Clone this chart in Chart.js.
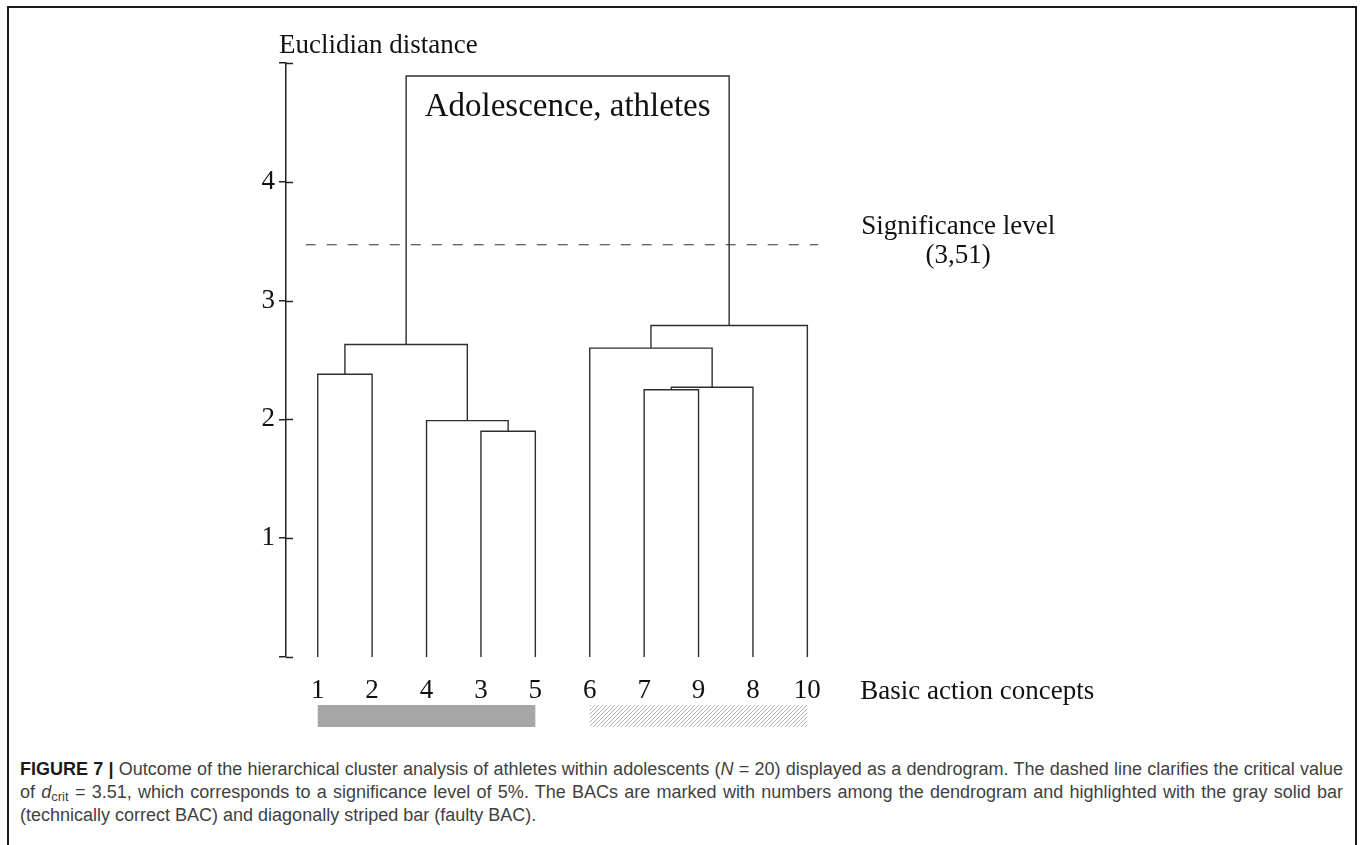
<!DOCTYPE html>
<html><head><meta charset="utf-8">
<script src="https://cdn.jsdelivr.net/npm/chart.js@4.4.0/dist/chart.umd.min.js"></script>
<style>
html,body{margin:0;padding:0;background:#fff;width:1363px;height:845px;overflow:hidden;}
#wrap{position:absolute;left:0;top:0;width:1363px;height:750px;}
#frame{position:absolute;left:7px;top:6px;width:1346px;height:900px;border:2px solid #1a1a1a;border-bottom:none;}
#caption{position:absolute;left:20px;top:758px;width:1323px;font-family:"Liberation Sans",Arial,sans-serif;font-size:18px;line-height:23px;color:#3f3f3f;white-space:nowrap;}
#caption div.j{text-align:justify;text-align-last:justify;}
#caption b{color:#1a1a1a;}
#caption sub{font-size:13px;vertical-align:-3px;line-height:0;}
</style></head>
<body>
<div id="frame"></div>
<div id="wrap"><canvas id="c" width="1363" height="750"></canvas></div>
<div id="caption"><div class="j"><b>FIGURE 7 |</b> Outcome of the hierarchical cluster analysis of athletes within adolescents (<i>N</i> = 20) displayed as a dendrogram. The dashed line clarifies the critical value</div><div class="j">of <i>d</i><sub>crit</sub> = 3.51, which corresponds to a significance level of 5%. The BACs are marked with numbers among the dendrogram and highlighted with the gray solid bar</div><div>(technically correct BAC) and diagonally striped bar (faulty BAC).</div></div>
<script>
// ---- data ----
const leafLabels = ['1','2','4','3','5','6','7','9','8','10'];
// nodes 0-9 = leaves in display order, 10+ = merged clusters
const mergeA = [3, 2, 6, 12, 0, 5, 14, 15, 16];
const mergeB = [4, 10, 7, 8, 1, 13, 11, 9, 17];
const mergeHeight = [1.90, 1.99, 2.25, 2.27, 2.38, 2.60, 2.63, 2.79, 4.89];
const yTicks = [0, 1, 2, 3, 4, 5];
const critValue = 3.47;
const critFrom = -0.22, critTo = 9.2;
const groupFrom = [0, 5];
const groupTo = [4, 9];
const groupStyle = ['solid', 'striped'];

// ---- build dendrogram line datasets ----
const nodeX = leafLabels.map((_, i) => i);
const nodeY = leafLabels.map(() => 0);
const LINE = '#2e2e2e';
const datasets = mergeA.map((a, k) => {
  const b = mergeB[k], h = mergeHeight[k];
  const ds = {
    data: [{x: nodeX[a], y: nodeY[a]}, {x: nodeX[a], y: h}, {x: nodeX[b], y: h}, {x: nodeX[b], y: nodeY[b]}],
    showLine: true, borderColor: LINE, borderWidth: 1.4, pointRadius: 0, tension: 0, fill: false
  };
  nodeX.push((nodeX[a] + nodeX[b]) / 2);
  nodeY.push(h);
  return ds;
});
datasets.push({
  data: [{x: critFrom, y: critValue}, {x: critTo, y: critValue}],
  showLine: true, borderColor: '#333', borderWidth: 1.2, borderDash: [10, 11], pointRadius: 0, fill: false
});

function hatchPattern(ctx) {
  const p = document.createElement('canvas');
  p.width = 4; p.height = 4;
  const g = p.getContext('2d');
  g.fillStyle = '#fff'; g.fillRect(0, 0, 4, 4);
  g.strokeStyle = '#a8a8a8'; g.lineWidth = 0.9;
  g.beginPath();
  g.moveTo(0, 4); g.lineTo(4, 0);
  g.moveTo(-1, 1); g.lineTo(1, -1);
  g.moveTo(3, 5); g.lineTo(5, 3);
  g.stroke();
  return ctx.createPattern(p, 'repeat');
}

const SERIF = '"Liberation Serif","Times New Roman",serif';
const extras = {
  id: 'extras',
  afterDraw(chart) {
    const ctx = chart.ctx, ca = chart.chartArea;
    const xs = chart.scales.x, ys = chart.scales.y;
    ctx.save();
    // right-hand halves of the y tick marks
    ctx.strokeStyle = '#222'; ctx.lineWidth = 1.5;
    yTicks.forEach(v => {
      const y = Math.round(ys.getPixelForValue(v)) + 0.5;
      ctx.beginPath(); ctx.moveTo(ca.left, y); ctx.lineTo(ca.left + 7, y); ctx.stroke();
    });
    // group bars
    groupFrom.forEach((f, g) => {
      const x1 = xs.getPixelForValue(f), x2 = xs.getPixelForValue(groupTo[g]);
      const y1 = ca.bottom + 48;
      ctx.fillStyle = groupStyle[g] === 'solid' ? '#a6a6a6' : hatchPattern(ctx);
      ctx.fillRect(x1, y1, x2 - x1, 22);
    });
    // texts
    ctx.fillStyle = '#111';
    ctx.textBaseline = 'alphabetic';
    ctx.font = '27px ' + SERIF;
    ctx.textAlign = 'left';
    ctx.fillText('Euclidian distance', ca.left - 7, ca.top - 10);
    ctx.fillText('Basic action concepts', xs.getPixelForValue(leafLabels.length - 1) + 53, ca.bottom + 42);
    ctx.textAlign = 'center';
    const sx = xs.getPixelForValue(critTo) + 140, sy = ys.getPixelForValue(critValue);
    ctx.fillText('Significance level', sx, sy - 11);
    ctx.fillText('(3,51)', sx, sy + 18);
    const root = mergeA.length - 1;
    const rx = (xs.getPixelForValue(nodeX[mergeA[root]]) + xs.getPixelForValue(nodeX[mergeB[root]])) / 2;
    ctx.font = '33px ' + SERIF;
    ctx.fillText('Adolescence, athletes', rx, ys.getPixelForValue(mergeHeight[root]) + 40);
    ctx.restore();
  }
};

new Chart(document.getElementById('c'), {
  type: 'scatter',
  data: {datasets},
  options: {
    responsive: false, animation: false, devicePixelRatio: 1,
    layout: {padding: {left: 0, top: 63, right: 523, bottom: 0}},
    plugins: {legend: {display: false}, tooltip: {enabled: false}},
    scales: {
      x: {
        type: 'linear', min: -0.583, max: 9.6,
        afterBuildTicks: ax => { ax.ticks = leafLabels.map((_, i) => ({value: i})); },
        afterFit: s => { s.height = 93; },
        grid: {display: false}, border: {display: false},
        ticks: {autoSkip: false, maxRotation: 0, padding: 10, color: '#111',
          font: {family: SERIF, size: 27},
          callback: v => leafLabels[v]}
      },
      y: {
        type: 'linear', min: 0, max: 5,
        afterBuildTicks: ax => { ax.ticks = yTicks.map(v => ({value: v})); },
        afterFit: s => { s.width = 286; },
        grid: {display: true, drawOnChartArea: false, drawTicks: true, tickLength: 7, color: '#222', lineWidth: 1.5},
        border: {display: true, color: '#222', width: 1.5},
        ticks: {padding: 4, color: '#111', font: {family: SERIF, size: 27},
          callback: v => (v === 0 || v === 5) ? '' : String(v)}
      }
    }
  },
  plugins: [extras]
});
</script>
</body></html>
